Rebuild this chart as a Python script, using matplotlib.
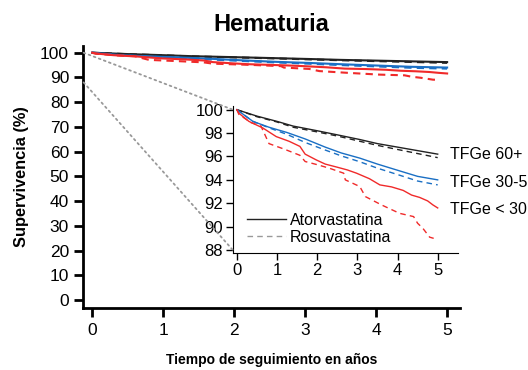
import matplotlib.pyplot as plt
from matplotlib.patches import ConnectionPatch
from matplotlib.lines import Line2D

plt.rcParams['font.family'] = ['Liberation Sans', 'DejaVu Sans']

# tiempos (años) y supervivencia (%)
t_ato60 = [0, 0.5, 1.0, 1.4, 2.0, 2.5, 3.06, 3.5, 4.0, 4.5, 5.0]
s_ato60 = [100, 99.45, 99.0, 98.6, 98.2, 97.85, 97.45, 97.1, 96.8, 96.5, 96.2]
t_ros60 = [0, 0.5, 1.0, 1.4, 2.0, 2.5, 3.06, 3.5, 4.0, 4.5, 5.0]
s_ros60 = [100, 99.4, 98.95, 98.5, 98.1, 97.75, 97.3, 96.95, 96.6, 96.25, 95.9]

t_ato30 = [0, 0.4, 0.8, 1.24, 1.7, 2.2, 2.6, 3.06, 3.5, 4.05, 4.5, 5.0]
s_ato30 = [100, 99.0, 98.5, 98.06, 97.5, 96.8, 96.3, 95.86, 95.35, 94.77, 94.3, 94.0]
t_ros30 = [0, 0.4, 0.8, 1.24, 1.7, 2.2, 2.6, 3.06, 3.5, 4.05, 4.5, 5.0]
s_ros30 = [100, 99.0, 98.45, 97.9, 97.2, 96.55, 96.05, 95.55, 95.0, 94.4, 93.9, 93.57]

t_ato_lt30 = [0, 0.05, 0.3, 0.65, 0.98, 1.3, 1.57, 1.7, 1.98, 2.2, 2.48, 2.75, 2.98, 3.3, 3.56,
              3.85, 4.14, 4.35, 4.55, 4.75, 4.88, 5.0]
s_ato_lt30 = [100, 99.7, 99.0, 98.43, 97.7, 97.3, 96.86, 96.2, 95.7, 95.35, 95.1, 94.85, 94.57,
              94.1, 93.57, 93.4, 93.1, 92.7, 92.5, 92.2, 91.86, 91.6]
t_ros_lt30 = [0, 0.05, 0.35, 0.6, 0.8, 1.2, 1.57, 1.7, 2.0, 2.3, 2.66, 2.7, 3.06, 3.2, 3.6,
              4.05, 4.4, 4.5, 4.63, 4.8, 4.9]
s_ros_lt30 = [100, 99.6, 98.9, 98.6, 97.1, 96.6, 96.1, 95.57, 95.3, 95.0, 94.57, 94.0, 93.43,
              92.57, 91.86, 91.14, 90.86, 90.29, 89.86, 89.1, 89.0]

grupos = ['TFGe 60+', 'TFGe 30-59', 'TFGe < 30']
colores = ['#222222', '#1a6fc4', '#f02a2a']
series = [
    (t_ato60, s_ato60, t_ros60, s_ros60),
    (t_ato30, s_ato30, t_ros30, s_ros30),
    (t_ato_lt30, s_ato_lt30, t_ros_lt30, s_ros_lt30),
]
pos_etiqueta = [96.15, 93.75, 91.45]

fig = plt.figure(figsize=(5.28, 3.70), dpi=100)
ax = fig.add_axes([0.157, 0.1676, 0.714, 0.708])

for (ta, sa, tr, sr), c in zip(series, colores):
    ax.plot(ta, sa, color=c, lw=1.5)
    ax.plot(tr, sr, color=c, lw=1.5, ls=(0, (3.5, 2.5)))

ax.set_xlim(-0.13, 5.18)
ax.set_ylim(-3.2, 102.7)
ax.set_xticks(range(6))
ax.set_yticks(range(0, 101, 10))
for s in ['top', 'right']:
    ax.spines[s].set_visible(False)
for s in ['left', 'bottom']:
    ax.spines[s].set_linewidth(2)
ax.tick_params(width=2, length=6.5, labelsize=12.5)
ax.tick_params(axis='x', pad=4)
ax.set_title('Hematuria', fontsize=17, fontweight='bold', pad=11)
ax.set_xlabel('Tiempo de seguimiento en años', fontsize=10, fontweight='bold', labelpad=11)
ax.set_ylabel('Supervivencia (%)', fontsize=11.8, fontweight='bold', labelpad=8)

# recuadro ampliado
axin = fig.add_axes([0.441, 0.316, 0.426, 0.397])
axin.set_facecolor('none')
for (ta, sa, tr, sr), c in zip(series, colores):
    axin.plot(ta, sa, color=c, lw=1.0)
    axin.plot(tr, sr, color=c, lw=1.0, ls=(0, (4, 3)))
axin.set_xlim(-0.1, 5.5)
axin.set_ylim(87.74, 100.3)
axin.set_xticks(range(6))
axin.set_yticks(range(88, 101, 2))
for s in ['top', 'right']:
    axin.spines[s].set_visible(False)
axin.tick_params(width=1, length=5, labelsize=12, pad=2)

for g, y in zip(grupos, pos_etiqueta):
    axin.text(5.3, y, g, fontsize=11.5, va='center', ha='left', clip_on=False)

handles = [Line2D([], [], color='#222222', lw=1.0),
           Line2D([], [], color='#999999', lw=1.0, ls=(0, (4, 3)))]
axin.legend(handles, ['Atorvastatina', 'Rosuvastatina'], loc='lower left',
            bbox_to_anchor=(0.0, -0.04), frameon=False, fontsize=11.5,
            handlelength=2.4, handletextpad=0.25, labelspacing=0.1)

for y in [100, 88]:
    con = ConnectionPatch(xyA=(-0.12, y), coordsA=ax.transData,
                          xyB=(-0.1, y), coordsB=axin.transData,
                          color='#999999', lw=1.3, ls=(0, (1, 2)))
    fig.add_artist(con)

fig.savefig('out.png', dpi=100)
